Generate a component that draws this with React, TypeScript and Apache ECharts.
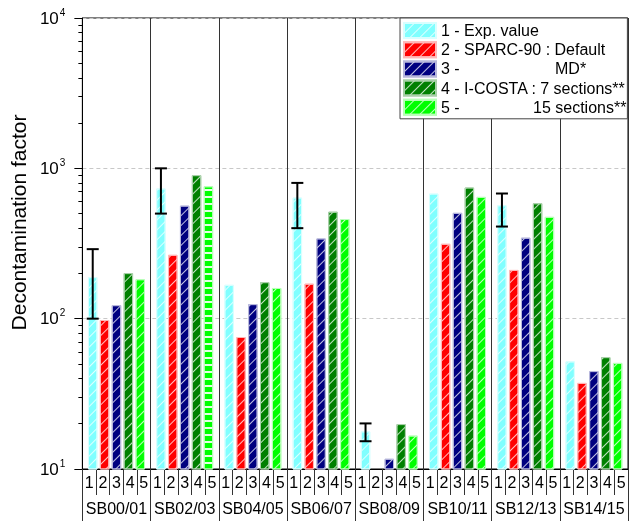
import React, { useEffect, useRef } from "react";
import * as echarts from "echarts";

const groups = ["SB00/01", "SB02/03", "SB04/05", "SB06/07", "SB08/09", "SB10/11", "SB12/13", "SB14/15"];
const subLabels = ["1", "2", "3", "4", "5"];
const seriesNames = [
  "1 - Exp. value",
  "2 - SPARC-90 : Default",
  "3 - MD*",
  "4 - I-COSTA : 7 sections**",
  "5 - 15 sections**",
];
const expValue = [189, 735, 168, 640, 17.8, 680, 568, 52];
const sparcDefault = [98, 266, 75.5, 171, null, 315, 211, 37.4];
const sparcMD = [123, 565, 125, 342, 11.7, 506, 346, 44.8];
const icosta7 = [201, 901, 175, 515, 19.9, 746, 586, 55.5];
const icosta15 = [183, 760, 160, 460, 16.7, 646, 476, 50.8];
const errLow = [100, 500, null, 400, 15.3, null, 410, null];
const errHigh = [290, 1000, null, 800, 20.1, null, 680, null];
const minorTicks = [2, 3, 4, 5, 6, 7, 8, 9].flatMap((m) => [m * 10, m * 100, m * 1000]);

const FONT = "Liberation Sans, Arial, sans-serif";
const colors = ["#80ffff", "#ff0000", "#000080", "#008000", "#00ff00"];
const borders = ["#d8ffff", "#ffb8b8", "#b8b8dc", "#a8d0a8", "#b8ffb8"];
const BAR_W = 9.5;
const GAP_RATIO = 0.25;

const hatch = {
  symbol: "rect",
  symbolSize: 1,
  dashArrayX: [1, 0],
  dashArrayY: [1, 6],
  rotation: -Math.PI / 4,
  color: "rgba(255,255,255,0.75)",
};
const hStripes = {
  symbol: "rect",
  symbolSize: 1,
  dashArrayX: [1, 0],
  dashArrayY: [1.4, 4.6],
  rotation: 0,
  color: "rgba(255,255,255,0.9)",
};

export default function App() {
  const ref = useRef<HTMLDivElement>(null);
  useEffect(() => {
    if (!ref.current) return;
    const chart = echarts.init(ref.current, null, { renderer: "svg" });
    const valueSets = [expValue, sparcDefault, sparcMD, icosta7, icosta15];
    const barSeries = valueSets.map((vals, k) => ({
      name: seriesNames[k],
      type: "bar",
      xAxisIndex: 0,
      yAxisIndex: 0,
      barWidth: BAR_W,
      barGap: GAP_RATIO * 100 + "%",
      itemStyle: { color: colors[k], borderColor: borders[k], borderWidth: 1, decal: hatch },
      data: vals.map((v, i) =>
        v == null
          ? "-"
          : k === 4 && i === 1
          ? { value: v, itemStyle: { decal: hStripes } }
          : v
      ),
    }));
    const errData = groups
      .map((g, i) => (errLow[i] == null ? null : [i, errLow[i], errHigh[i]]))
      .filter((d) => d != null);
    const total = 5 * BAR_W + 4 * BAR_W * GAP_RATIO;
    const firstOffset = -total / 2 + BAR_W / 2;
    const errSeries = {
      type: "custom",
      xAxisIndex: 0,
      yAxisIndex: 0,
      z: 5,
      data: errData,
      renderItem: (params: any, api: any) => {
        const lo = api.coord([api.value(0), api.value(1)]);
        const hi = api.coord([api.value(0), api.value(2)]);
        const x = lo[0] + firstOffset;
        const cap = 6;
        const style = { stroke: "#000", lineWidth: 2 };
        return {
          type: "group",
          children: [
            { type: "line", shape: { x1: x, y1: lo[1], x2: x, y2: hi[1] }, style },
            { type: "line", shape: { x1: x - cap, y1: lo[1], x2: x + cap, y2: lo[1] }, style },
            { type: "line", shape: { x1: x - cap, y1: hi[1], x2: x + cap, y2: hi[1] }, style },
          ],
        };
      },
    };
    chart.setOption({
      animation: false,
      textStyle: { fontFamily: FONT },
      grid: {
        left: 76,
        right: 5,
        top: 18,
        bottom: 52,
        show: true,
        borderColor: "#000",
        borderWidth: 1,
        backgroundColor: "transparent",
      },
      legend: {
        orient: "vertical",
        left: 400,
        top: 18,
        padding: [4, 1, 3, 3],
        itemGap: 2.2,
        itemWidth: 32,
        itemHeight: 15,
        itemTextGap: 8,
        icon: "rect",
        backgroundColor: "#fff",
        borderColor: "#444",
        borderWidth: 1,
        z: 10,
        data: seriesNames,
        textStyle: {
          fontFamily: FONT,
          fontSize: 16,
          color: "#000",
          rich: {
            a: { fontFamily: FONT, fontSize: 16, color: "#000", width: 114 },
            b: { fontFamily: FONT, fontSize: 16, color: "#000", width: 92 },
          },
        },
        formatter: (name: string) => {
          if (name === seriesNames[2]) return "{a|3 -}MD*";
          if (name === seriesNames[4]) return "{b|5 -}15 sections**";
          return name;
        },
      },
      xAxis: [
        {
          type: "category",
          gridIndex: 0,
          position: "bottom",
          data: groups,
          axisLine: { show: true, lineStyle: { color: "#000", width: 1 } },
          axisTick: { show: true, length: 55, lineStyle: { color: "#333" } },
          axisLabel: { fontSize: 16, color: "#000", fontFamily: FONT, margin: 31, interval: 0 },
          splitLine: { show: true, lineStyle: { color: "#333", width: 1 } },
        },
        {
          type: "category",
          gridIndex: 0,
          position: "bottom",
          data: groups.flatMap(() => subLabels),
          axisLine: { show: false },
          axisTick: { show: true, length: 26, interval: 0, lineStyle: { color: "#333" } },
          axisLabel: { fontSize: 16, color: "#000", fontFamily: FONT, margin: 5, interval: 0 },
          splitLine: { show: false },
        },
      ],
      yAxis: [
        {
          type: "log",
          logBase: 10,
          min: 10,
          max: 10000,
          name: "Decontamination factor",
          nameLocation: "middle",
          nameGap: 46,
          nameRotate: 90,
          nameTextStyle: { fontSize: 21, color: "#000", fontFamily: FONT, padding: [0, 0, 0, 42] },
          axisLine: { show: true, lineStyle: { color: "#000" } },
          axisTick: { show: true, length: 8, inside: false, lineStyle: { color: "#000" } },
          axisLabel: {
            margin: 17,
            color: "#000",
            formatter: (v: number) => "{b|10}{s|" + Math.round(Math.log10(v)) + "}",
            rich: {
              b: { fontSize: 17, fontFamily: FONT, color: "#000" },
              s: { fontSize: 10, fontFamily: FONT, color: "#000", verticalAlign: "bottom", padding: [0, 0, 12, 1] },
            },
          },
          splitLine: { show: true, lineStyle: { color: "#c8c8c8", type: [4, 3], width: 1 } },
        },
        {
          type: "log",
          logBase: 10,
          min: 10,
          max: 10000,
          position: "left",
          axisLine: { show: false },
          axisLabel: { show: false },
          splitLine: { show: false },
          axisTick: {
            show: true,
            length: 4,
            inside: false,
            customValues: minorTicks,
            lineStyle: { color: "#000" },
          },
        },
      ],
      series: [...barSeries, errSeries],
    });
    return () => chart.dispose();
  }, []);
  return <div ref={ref} style={{ position: "fixed", left: 0, top: 0, width: 633, height: 521 }} />;
}
